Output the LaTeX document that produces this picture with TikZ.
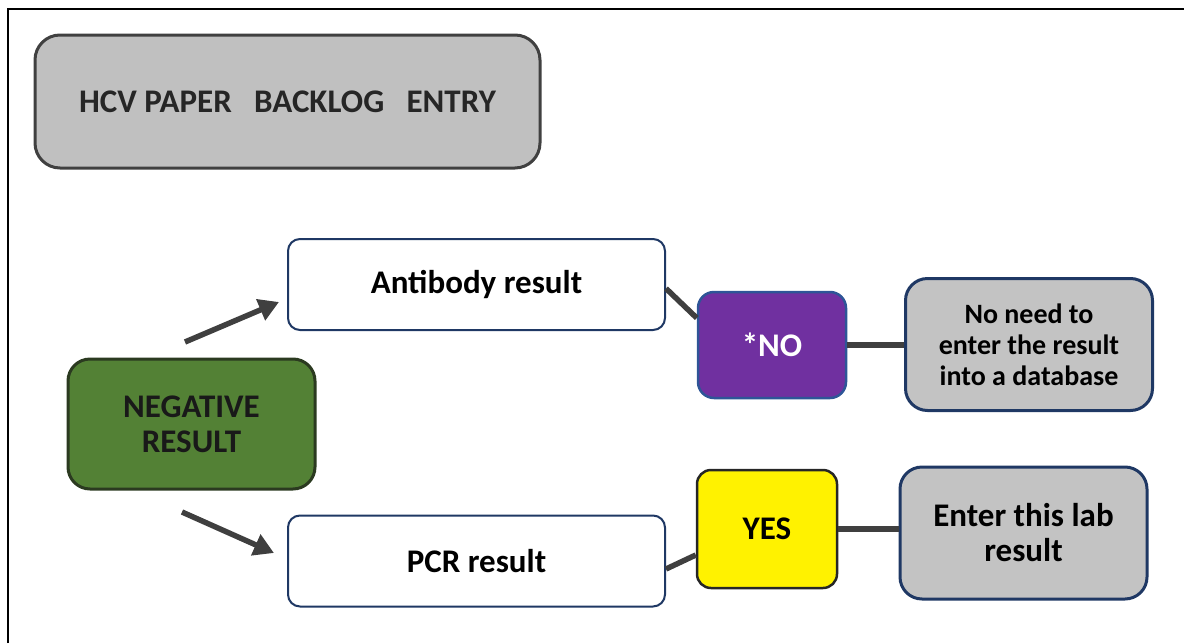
\documentclass[tikz,border=0pt]{standalone}
\usepackage{fontspec}
\setmainfont{Carlito}
\usetikzlibrary{positioning, arrows.meta}

\definecolor{titlegray}{HTML}{C0C0C0}
\definecolor{edgegray}{HTML}{404040}
\definecolor{navyedge}{HTML}{1F3864}
\definecolor{neggreen}{HTML}{538135}
\definecolor{negedge}{HTML}{2B3A20}
\definecolor{nopurple}{HTML}{7030A0}
\definecolor{noedge}{HTML}{2E5597}
\definecolor{endgray}{HTML}{C3C3C3}
\definecolor{linkgray}{HTML}{3F3F3F}

\begin{document}
\begin{tikzpicture}[x=1pt, y=-1pt,
    txt/.style={align=center, inner sep=0pt, font=\fontsize{33}{35}\selectfont\bfseries},
    titlebox/.style={txt, draw=edgegray, fill=titlegray, line width=3pt, rounded corners=25pt,
      minimum width=505pt, minimum height=133pt, text=black!85},
    resbox/.style={txt, draw=navyedge, fill=white, line width=2pt, rounded corners=12pt,
      minimum width=377pt, minimum height=91pt},
    negbox/.style={txt, draw=negedge, fill=neggreen, line width=3pt, rounded corners=22pt,
      minimum width=247pt, minimum height=130pt, text=black!90},
    nobox/.style={txt, draw=noedge, fill=nopurple, line width=2.5pt, rounded corners=16pt,
      minimum width=148pt, minimum height=106pt, text=white},
    yesbox/.style={txt, draw=black!85, fill=yellow, line width=2.5pt, rounded corners=14pt,
      minimum width=140pt, minimum height=118pt},
    endbox/.style={txt, draw=navyedge, fill=endgray, line width=3pt, rounded corners=22pt,
      minimum width=247pt, minimum height=132pt},
    link/.style={draw=linkgray, line width=5.5pt},
    arr/.style={link, -{Triangle[length=20pt, width=22pt]}}]

    \useasboundingbox (0,0) rectangle (1184,643);

    % frame
    \draw[line width=2pt] (8,643) -- (8,9) -- (1184,9);

    % boxes
    \node[titlebox] (title) at (287.5,101.5) {HCV PAPER\ \ \ BACKLOG\ \ \ ENTRY};
    \node[negbox] (neg) at (191.5,424) {NEGATIVE\\RESULT};
    \node[resbox] (ab) at (476.5,284.5) {Antibody result};
    \node[resbox] (pcr) at (476.5,561) {PCR result};
    \node[nobox] (no) at (772,345) {*NO};
    \node[yesbox] (yes) at (767,529) {YES};
    \node[endbox, font=\fontsize{28}{31}\selectfont\bfseries] (db) at (1029,344.5)
        {No need to\\enter the result\\into a database};
    \node[endbox] (lab) at (1023.5,533) {Enter this lab\\result};

    % arrow ends
    \coordinate (up) at (185,342);
    \coordinate (down) at (182,512);

    % arrows
    \draw[arr] (up) -- ([xshift=-8pt, yshift=-17.5pt]ab.west);
    \draw[arr] (down) -- ([xshift=-13pt, yshift=8pt]pcr.west);

    % links
    \draw[link] ([yshift=-4pt]ab.east) -- ([yshift=27pt]no.west);
    \draw[link] (no.east) -- (no.east -| db.west);
    \draw[link] ([yshift=-8pt]pcr.east) -- ([yshift=-26pt]yes.west);
    \draw[link] (yes.east) -- (yes.east -| lab.west);

\end{tikzpicture}
\end{document}
